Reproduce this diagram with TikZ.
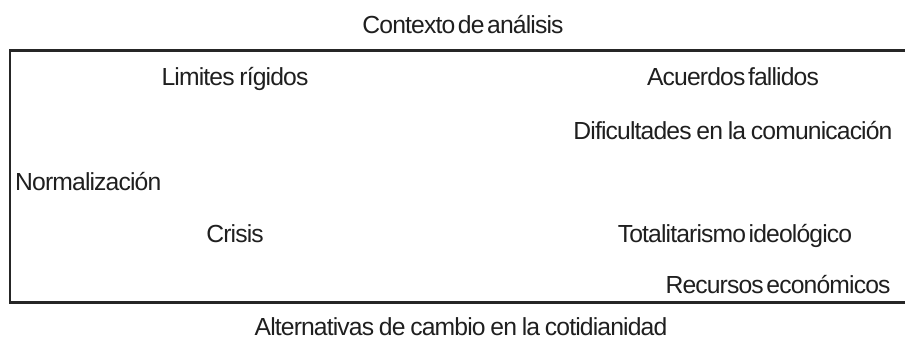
\documentclass[tikz,border=0pt]{standalone}
\usepackage{fontspec}
\setmainfont{Liberation Sans}[LetterSpace=-3.5, WordSpace=0.8]
\newfontfamily\tightfont{Liberation Sans}[LetterSpace=-3.5, WordSpace=0.45]
\usetikzlibrary{positioning}

\begin{document}
\begin{tikzpicture}[x=1pt,y=-1pt]
\tikzstyle{lbl}=[anchor=base, inner sep=0pt, text=black!88,
                 font=\fontsize{24.7}{28}\selectfont]
\tikzstyle{tight}=[font=\tightfont\fontsize{24.7}{28}\selectfont]
\tikzstyle{frame}=[line width=2.8pt, draw=black!85]
\useasboundingbox (0,0) rectangle (905,349);
%\draw[red] (0,0) rectangle (905,349);
\coordinate (TR) at (905,50.5);
\coordinate (BL) at (10,302.5);
\coordinate (BR) at (905,302.5);
\draw[frame] (TR) -| (BL) -- (BR);
\node[lbl, tight] (ctx) at (463,33) {Contexto de análisis};
\node[lbl] (lim) at (235,85) {Limites rígidos};
\node[lbl, tight] (acu) at (733,85) {Acuerdos fallidos};
\node[lbl] (dif) at (733,139) {Dificultades en la comunicación};
\node[lbl, anchor=base west] (nor) at (15,190) {Normalización};
\node[lbl] (cri) at (235,242) {Crisis};
\node[lbl, tight] (tot) at (735,242) {Totalitarismo ideológico};
\node[lbl, tight] (rec) at (778,293) {Recursos económicos};
\node[lbl] (alt) at (461,335) {Alternativas de cambio en la cotidianidad};
\end{tikzpicture}
\end{document}
